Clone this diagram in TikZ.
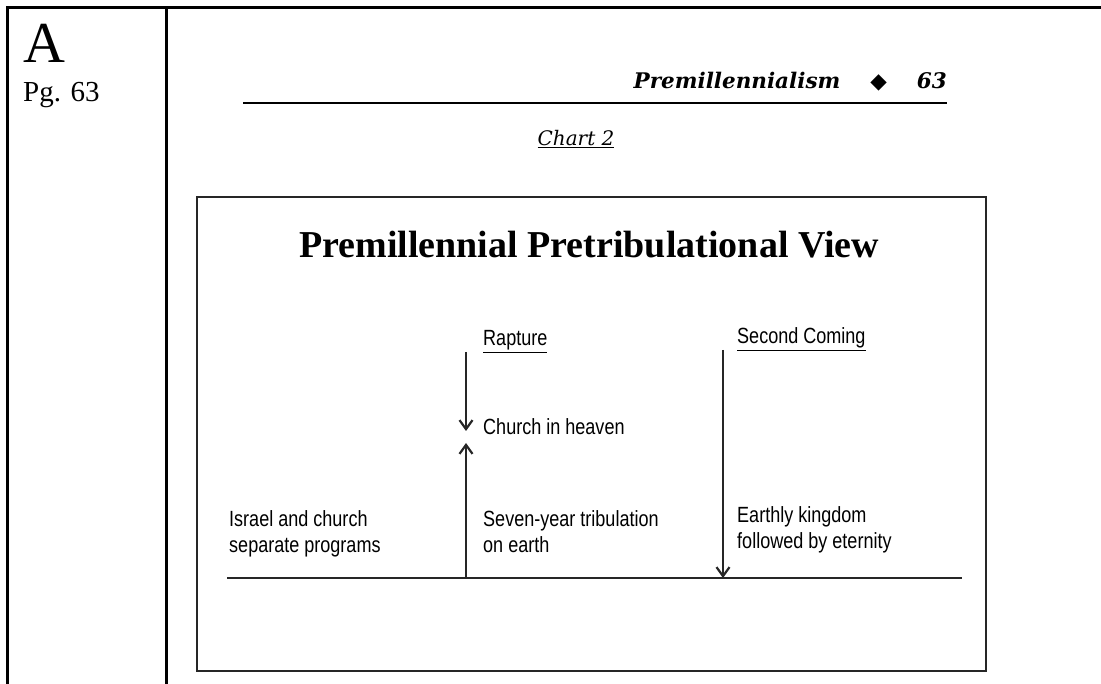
\documentclass[tikz,border=0pt]{standalone}
\usepackage{xcolor}
\usepackage{fontspec}
\setmainfont{Liberation Serif}
\newfontfamily\chartfont[FakeStretch=0.82]{Liberation Sans}
\newfontfamily\headfont{DejaVu Serif}
\newfontfamily\symfont{DejaVu Sans}
\usepackage{tikz}
\usetikzlibrary{arrows.meta,positioning}

\tikzset{
  frame/.style={line width=3pt},
  chartline/.style={line width=1.8pt, black!85},
  txt/.style={inner sep=0pt, anchor=base west},
  label/.style={txt, font=\chartfont\fontsize{22}{26}\selectfont, align=left},
}

\begin{document}
\begin{tikzpicture}[x=1pt, y=-1pt, >={Straight Barb[length=9pt,width=13pt,line width=2.2pt]}]
\useasboundingbox (0,0) rectangle (1101,684);

%%%%%%%%%%%%%%% table frame
\draw[frame] (1101,8) -- (7,8) -- (7,684);
\draw[frame] (166,8) -- (166,684);

\node[txt] (letter) at (23,63) {\fontsize{58}{60}\selectfont A};
\node[txt] (page) at (23,102) {\fontsize{29}{30}\selectfont Pg. 63};

%%%%%%%%%%%%%%% page header
\node[inner sep=0pt, anchor=base east] (head) at (947,89)
  {\headfont\bfseries\itshape\fontsize{21.5}{24}\selectfont Premillennialism\hspace{30pt}{\symfont ◆}\hspace{30pt}63};
\draw[line width=2.5pt] (243,103) -- (947,103);
\node[inner sep=0pt, anchor=base] (chart) at (576,146)
  {\headfont\itshape\fontsize{20}{24}\selectfont\underline{Chart 2}};

%%%%%%%%%%%%%%% chart box
\draw[chartline, line width=2pt] (197,197) rectangle (986,671);
\node[inner sep=0pt, anchor=base] (title) at (589,258)
  {\bfseries\fontsize{38}{40}\selectfont Premillennial Pretribulational View};

\node[label] (rapture) at (483,346) {\underline{Rapture}};
\node[label] (second) at (737,344) {\underline{Second Coming}};
\node[label] (heaven) at (483,435) {Church in heaven};

\node[label] (israel) at (229,552) {Israel and church\\separate programs};
\node[label] (tribulation) at (483,552) {Seven-year tribulation\\on earth};
\node[label] (kingdom) at (737,548) {Earthly kingdom\\followed by eternity};

\coordinate (lineL) at (227,578);
\coordinate (lineR) at (962,578);
\coordinate (raptureTop) at (466,352);
\coordinate (raptureIn) at (466,431);
\coordinate (raptureOut) at (466,443);
\coordinate (raptureBot) at (466,578);
\coordinate (secondTop) at (723,350);
\coordinate (secondBot) at (723,578);

\draw[chartline] (lineL) -- (lineR);
\draw[chartline, ->] (raptureTop) -- (raptureIn);
\draw[chartline, ->] (raptureBot) -- (raptureOut);
\draw[chartline, ->] (secondTop) -- (secondBot);

\end{tikzpicture}
\end{document}
